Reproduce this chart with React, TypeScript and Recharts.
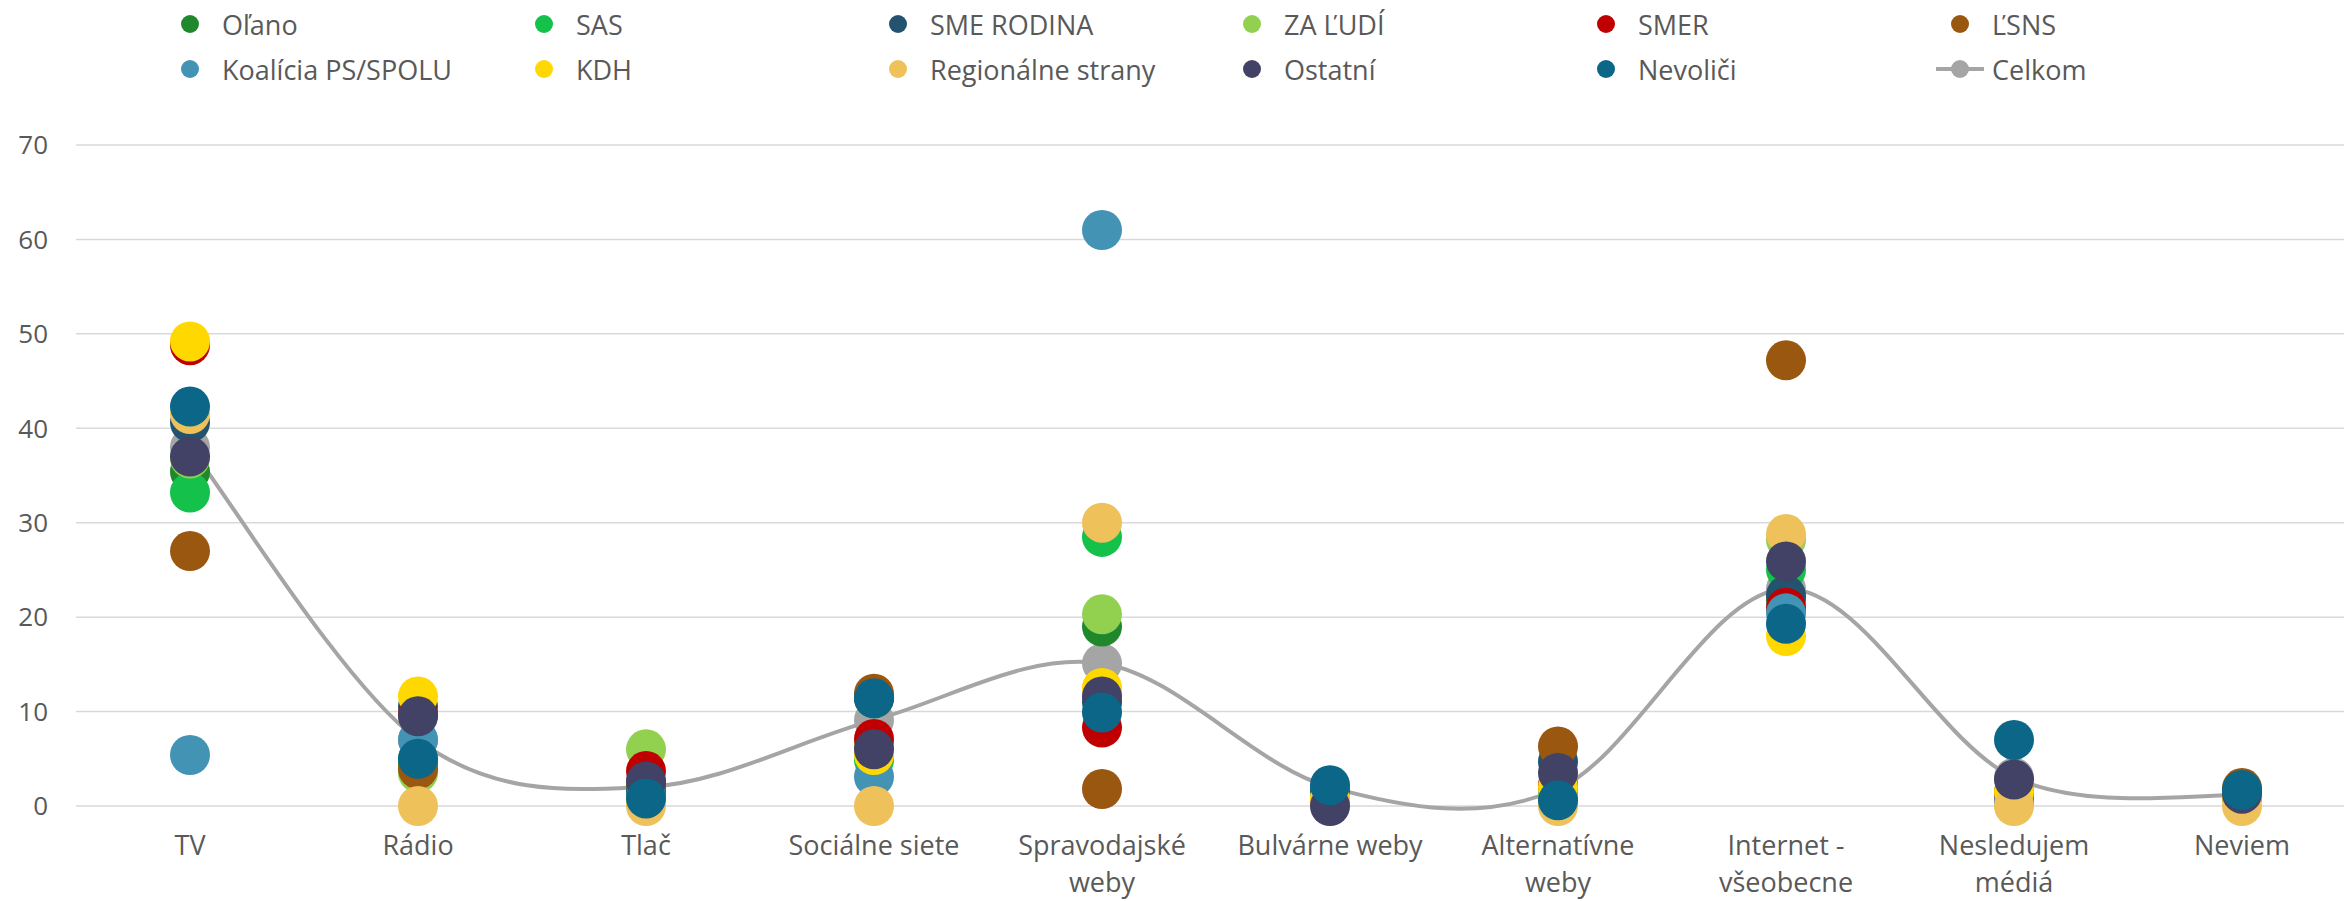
import React from "react";
import {
  ComposedChart,
  Line,
  Scatter,
  XAxis,
  YAxis,
  CartesianGrid,
} from "recharts";

const CATEGORIES = [
  "TV",
  "Rádio",
  "Tlač",
  "Sociálne siete",
  "Spravodajské weby",
  "Bulvárne weby",
  "Alternatívne weby",
  "Internet - všeobecne",
  "Nesledujem médiá",
  "Neviem",
];

const Y_TICKS = [0, 10, 20, 30, 40, 50, 60, 70];

// values per party, same order as CATEGORIES
const OLANO = [35.4, 4.5, 2.2, 11.4, 19.0, 1.0, 1.0, 21.8, 0.5, 1.0];
const SAS = [33.2, 5.0, 1.5, 4.9, 28.5, 1.2, 0.5, 25.0, 0.3, 1.0];
const SME_RODINA = [40.6, 10.5, 1.5, 11.5, 11.0, 1.5, 4.7, 22.3, 1.0, 1.5];
const ZA_LUDI = [36.8, 3.5, 6.0, 6.5, 20.3, 0.8, 1.0, 28.2, 0.5, 1.0];
const SMER = [48.8, 9.7, 3.7, 7.1, 8.3, 0.5, 2.2, 21.0, 1.2, 1.2];
const LSNS = [27.0, 3.9, 2.5, 11.9, 1.8, 0.3, 6.3, 47.2, 1.5, 1.9];
const PS_SPOLU = [5.4, 7.0, 1.0, 3.1, 61.0, 0.5, 0.3, 20.4, 0.5, 1.0];
const KDH = [49.2, 11.6, 0.5, 5.4, 12.5, 0.8, 2.0, 18.0, 1.5, 1.0];
const REGIONALNE = [41.5, 0.0, 0.0, 0.0, 30.0, 0.2, 0.0, 28.8, 0.0, 0.0];
const OSTATNI = [37.0, 9.5, 2.6, 6.0, 11.6, 0.0, 3.5, 25.9, 2.8, 1.3];
const NEVOLICI = [42.3, 5.0, 0.8, 11.4, 9.9, 2.2, 0.6, 19.3, 7.0, 1.7];
const CELKOM = [38.0, 7.0, 2.0, 9.1, 15.1, 2.0, 1.8, 23.0, 3.0, 1.1];

const SERIES = [
  { key: "olano", name: "Oľano", color: "#20882C", values: OLANO },
  { key: "sas", name: "SAS", color: "#13C14B", values: SAS },
  { key: "smeRodina", name: "SME RODINA", color: "#24536F", values: SME_RODINA },
  { key: "zaLudi", name: "ZA ĽUDÍ", color: "#92D050", values: ZA_LUDI },
  { key: "smer", name: "SMER", color: "#C00000", values: SMER },
  { key: "lsns", name: "ĽSNS", color: "#9A570F", values: LSNS },
  { key: "ps", name: "Koalícia PS/SPOLU", color: "#4393B5", values: PS_SPOLU },
  { key: "kdh", name: "KDH", color: "#FFD800", values: KDH },
  { key: "reg", name: "Regionálne strany", color: "#EEC15A", values: REGIONALNE },
  { key: "ostatni", name: "Ostatní", color: "#414265", values: OSTATNI },
  { key: "nevolici", name: "Nevoliči", color: "#0B6688", values: NEVOLICI },
];

const CELKOM_COLOR = "#A5A5A5";
const TEXT_COLOR = "#595959";
const FONT = "'Open Sans', sans-serif";
const R = 20;

const data = CATEGORIES.map((name, i) => {
  const row: Record<string, string | number> = { name, celkom: CELKOM[i] };
  SERIES.forEach((s) => {
    row[s.key] = s.values[i];
  });
  return row;
});

// smooth line like the spreadsheet one (catmull-rom through the points)
function smoothCurve(context: any) {
  let pts: number[][] = [];
  return {
    areaStart() {},
    areaEnd() {},
    lineStart() {
      pts = [];
    },
    point(x: number, y: number) {
      pts.push([+x, +y]);
    },
    lineEnd() {
      const n = pts.length;
      if (!n) return;
      context.moveTo(pts[0][0], pts[0][1]);
      for (let i = 0; i < n - 1; i++) {
        const p0 = pts[Math.max(i - 1, 0)];
        const p1 = pts[i];
        const p2 = pts[i + 1];
        const p3 = pts[Math.min(i + 2, n - 1)];
        context.bezierCurveTo(
          p1[0] + (p2[0] - p0[0]) / 6,
          p1[1] + (p2[1] - p0[1]) / 6,
          p2[0] - (p3[0] - p1[0]) / 6,
          p2[1] - (p3[1] - p1[1]) / 6,
          p2[0],
          p2[1]
        );
      }
    },
  };
}

function wrapLabel(label: string): string[] {
  if (label.length <= 14) return [label];
  const cut = label.lastIndexOf(" ");
  return [label.slice(0, cut), label.slice(cut + 1)];
}

const CategoryTick = ({ x, y, payload }: any) => {
  const lines = wrapLabel(String(payload.value));
  return (
    <text
      x={x}
      y={y}
      textAnchor="middle"
      fontSize={27}
      fontFamily={FONT}
      fill={TEXT_COLOR}
    >
      {lines.map((l, i) => (
        <tspan key={i} x={x} dy={i === 0 ? 49 : 37}>
          {l}
        </tspan>
      ))}
    </text>
  );
};

const LegendBlock = () => {
  const items = [
    ...SERIES.map((s) => ({ name: s.name, color: s.color, line: false })),
    { name: "Celkom", color: CELKOM_COLOR, line: true },
  ];
  return (
    <>
      {items.map((it, i) => {
        const col = i % 6;
        const row = Math.floor(i / 6);
        const cx = 190 + col * 354;
        const cy = row === 0 ? 24 : 69;
        return (
          <div
            key={it.name}
            style={{
              position: "absolute",
              left: cx - 26,
              top: cy - 18,
              height: 36,
              display: "flex",
              alignItems: "center",
              fontFamily: FONT,
              fontSize: 27,
              color: TEXT_COLOR,
              whiteSpace: "nowrap",
            }}
          >
            <svg width={52} height={32}>
              {it.line && (
                <line x1={2} y1={16} x2={50} y2={16} stroke={it.color} strokeWidth={4} />
              )}
              <circle cx={26} cy={16} r={9} fill={it.color} />
            </svg>
            <span style={{ marginLeft: 6 }}>{it.name}</span>
          </div>
        );
      })}
    </>
  );
};

export default function App() {
  return (
    <div
      style={{
        position: "relative",
        width: 2344,
        height: 901,
        overflow: "hidden",
        background: "#fff",
      }}
    >
      <style>{"body{margin:0;overflow:hidden}"}</style>
      <ComposedChart
        width={2356}
        height={901}
        data={data}
        margin={{ top: 145, right: 0, bottom: 0, left: 16 }}
      >
        <CartesianGrid vertical={false} stroke="#D9D9D9" strokeWidth={1.5} />
        <XAxis
          dataKey="name"
          height={95}
          interval={0}
          padding={{ left: 114, right: 114 }}
          tickLine={false}
          axisLine={false}
          tickSize={0}
          tickMargin={0}
          tick={<CategoryTick />}
        />
        <YAxis
          type="number"
          domain={[0, 70]}
          ticks={Y_TICKS}
          width={60}
          tickLine={false}
          axisLine={false}
          tickSize={0}
          tickMargin={28}
          tick={{ fontSize: 26, fontFamily: FONT, fill: TEXT_COLOR }}
        />
        <Line
          dataKey="celkom"
          name="Celkom"
          type={smoothCurve as any}
          stroke={CELKOM_COLOR}
          strokeWidth={4}
          activeDot={false}
          isAnimationActive={false}
          dot={(p: any) => (
            <circle key={`celkom-${p.index}`} cx={p.cx} cy={p.cy} r={R} fill={CELKOM_COLOR} />
          )}
        />
        {SERIES.map((s) => (
          <Scatter
            key={s.key}
            dataKey={s.key}
            name={s.name}
            fill={s.color}
            isAnimationActive={false}
            shape={(p: any) => <circle cx={p.cx} cy={p.cy} r={R} fill={s.color} />}
          />
        ))}
      </ComposedChart>
      <LegendBlock />
    </div>
  );
}
